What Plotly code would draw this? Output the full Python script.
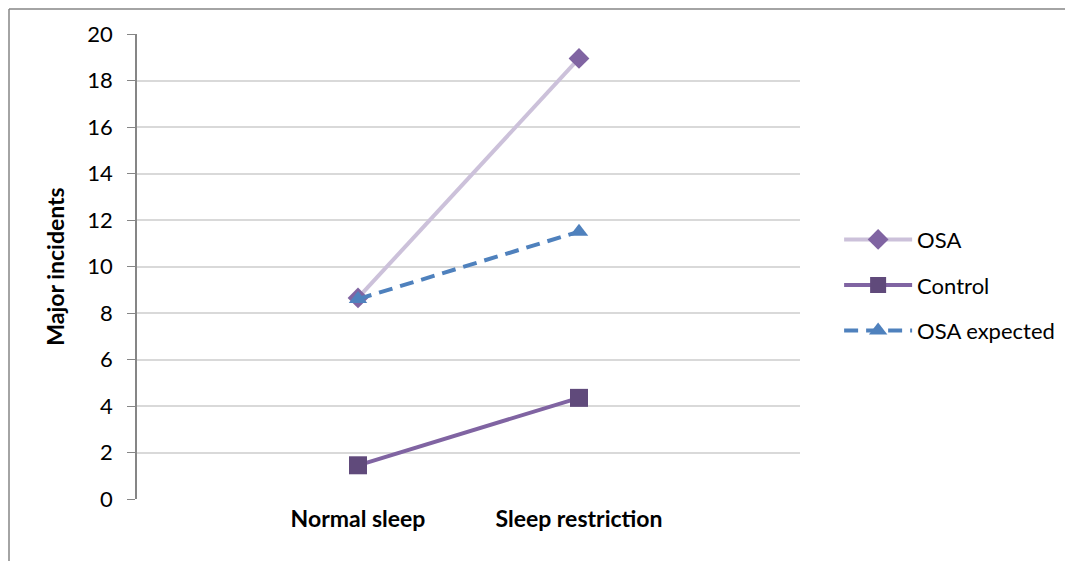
import plotly.graph_objects as go

categories = ["Normal sleep", "Sleep restriction"]
osa = [8.65, 18.95]
control = [1.45, 4.35]
osa_expected = [8.6, 11.5]
y_ticks = [0, 2, 4, 6, 8, 10, 12, 14, 16, 18, 20]

FONT = "Lato, 'Open Sans', sans-serif"

fig = go.Figure()
fig.add_trace(go.Scatter(
    x=categories, y=osa, name="OSA", mode="lines+markers", legendgroup="a",
    line=dict(color="#ccc1da", width=4),
    marker=dict(symbol="diamond", size=16, color="#8064a2"),
))
fig.add_trace(go.Scatter(
    x=categories, y=control, name="Control", mode="lines+markers", legendgroup="b",
    line=dict(color="#8064a2", width=4),
    marker=dict(symbol="square", size=18, color="#604a7b"),
))
fig.add_trace(go.Scatter(
    x=categories, y=osa_expected, name="OSA expected", mode="lines+markers", legendgroup="c",
    line=dict(color="#4f81bd", width=4, dash="14px,8px"),
    marker=dict(symbol="triangle-up", size=16, color="#4f81bd"),
))

W, H = 1065, 553
L, R, T, B = 129, 273, 26, 62
pw, ph = W - L - R, H - T - B

fig.update_layout(
    width=W, height=H,
    margin=dict(l=L, r=R, t=T, b=B),
    paper_bgcolor="white", plot_bgcolor="white",
    font=dict(family=FONT, size=22, color="black"),
    showlegend=True,
    legend=dict(x=1.059, y=0.46, xanchor="left", yanchor="middle",
                font=dict(size=22), tracegroupgap=14, itemwidth=68),
    xaxis=dict(type="category", range=[-1, 2], showgrid=False, showline=False,
               zeroline=False, ticks="", ticklabelstandoff=4,
               tickfont=dict(size=23, family=FONT, weight="bold")),
    yaxis=dict(range=[0, 20], tickvals=y_ticks, showgrid=True, gridcolor="#d9d9d9",
               gridwidth=1.5, showline=True, linecolor="#868686", linewidth=1.5,
               ticks="outside", ticklen=8, tickcolor="#868686", zeroline=False,
               ticklabelstandoff=10, tickfont=dict(size=22),
               title=dict(text="<b>Major incidents</b>", font=dict(size=23), standoff=16)),
    shapes=[
        dict(type="line", xref="paper", yref="paper", x0=(1 - L) / pw, x1=(W - L) / pw,
             y0=(H - B - 1) / ph, y1=(H - B - 1) / ph, line=dict(color="#868686", width=1.5)),
        dict(type="line", xref="paper", yref="paper", x0=(1 - L) / pw, x1=(1 - L) / pw,
             y0=(H - B - 1) / ph, y1=-B / ph, line=dict(color="#868686", width=1.5)),
    ],
)

fig.write_html("out.html")
